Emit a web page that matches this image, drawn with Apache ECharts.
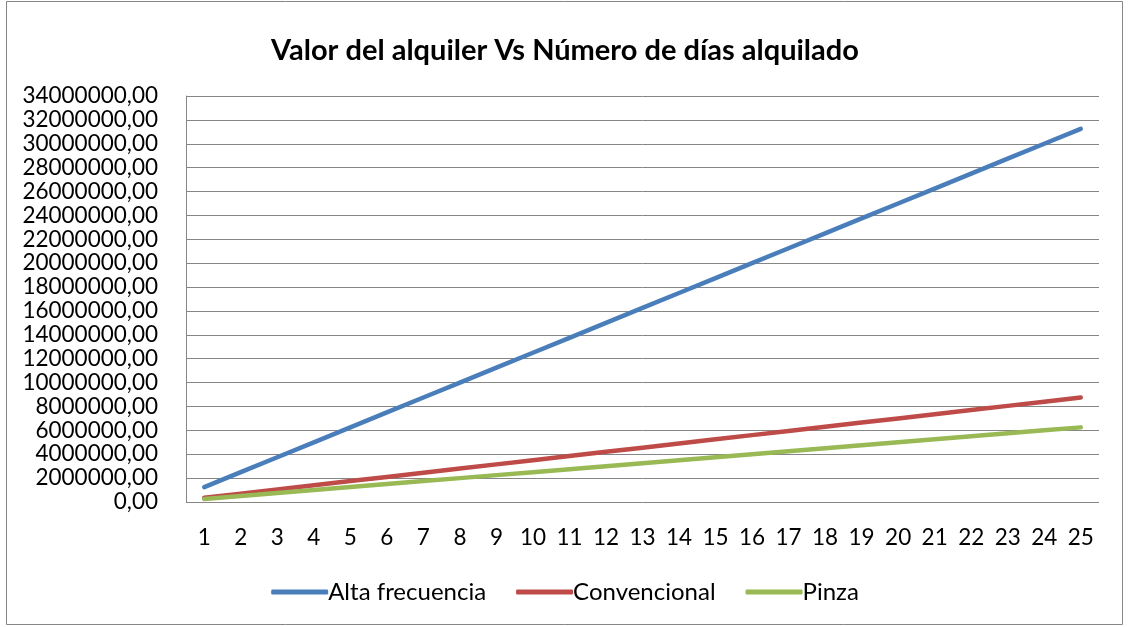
<!DOCTYPE html>
<html><head><meta charset="utf-8">
<script src="https://cdn.jsdelivr.net/npm/echarts@6/dist/echarts.min.js"></script>
<style>html,body{margin:0;padding:0;background:#fff}#c{width:1130px;height:627px}</style>
</head><body><div id="c"></div>
<script>
const categories = ['1','2','3','4','5','6','7','8','9','10','11','12','13','14','15','16','17','18','19','20','21','22','23','24','25'];
const altaFrecuencia = [1250000,2500000,3750000,5000000,6250000,7500000,8750000,10000000,11250000,12500000,13750000,15000000,16250000,17500000,18750000,20000000,21250000,22500000,23750000,25000000,26250000,27500000,28750000,30000000,31250000];
const convencional = [350000,700000,1050000,1400000,1750000,2100000,2450000,2800000,3150000,3500000,3850000,4200000,4550000,4900000,5250000,5600000,5950000,6300000,6650000,7000000,7350000,7700000,8050000,8400000,8750000];
const pinza = [250000,500000,750000,1000000,1250000,1500000,1750000,2000000,2250000,2500000,2750000,3000000,3250000,3500000,3750000,4000000,4250000,4500000,4750000,5000000,5250000,5500000,5750000,6000000,6250000];

const chart = echarts.init(document.getElementById('c'));
const mk = (name, data, color) => ({
  name, type: 'line', data, symbol: 'none', smooth: false,
  lineStyle: { width: 4.5, color, cap: 'round' }, itemStyle: { color }
});
chart.setOption({
  animation: false,
  graphic: [{ type: 'rect', shape: { x: 6.5, y: 1.5, width: 1116, height: 623 }, style: { fill: 'none', stroke: '#868686', lineWidth: 1 } }],
  title: { text: 'Valor del alquiler Vs Número de días alquilado', left: 'center', top: 31,
    textStyle: { fontFamily: 'Lato', fontWeight: 'bold', fontSize: 29, color: '#000' } },
  legend: { top: 575, left: 'center', itemWidth: 57, itemHeight: 5, itemGap: 30, icon: 'roundRect',
    textStyle: { fontFamily: 'Lato', fontSize: 24, color: '#000', padding: [0,0,0,-5] },
    data: ['Alta frecuencia','Convencional','Pinza'] },
  grid: { left: 186, right: 31, top: 96, bottom: 125, containLabel: false },
  xAxis: { type: 'category', data: categories, boundaryGap: true,
    axisLine: { show: false }, axisTick: { show: false },
    axisLabel: { fontFamily: 'Lato', fontSize: 22.5, color: '#000', margin: 24 } },
  yAxis: { type: 'value', min: 0, max: 34000000, interval: 2000000,
    axisLine: { show: true, lineStyle: { color: '#868686', width: 1 } },
    axisTick: { show: false },
    splitLine: { lineStyle: { color: '#868686', width: 1 } },
    axisLabel: { fontFamily: 'Lato', fontSize: 22.5, color: '#000', margin: 28,
      formatter: v => v.toFixed(2).replace('.', ',') } },
  series: [
    mk('Alta frecuencia', altaFrecuencia, '#4A7EBB'),
    mk('Convencional', convencional, '#BE4B48'),
    mk('Pinza', pinza, '#98B954')
  ]
});
</script></body></html>
